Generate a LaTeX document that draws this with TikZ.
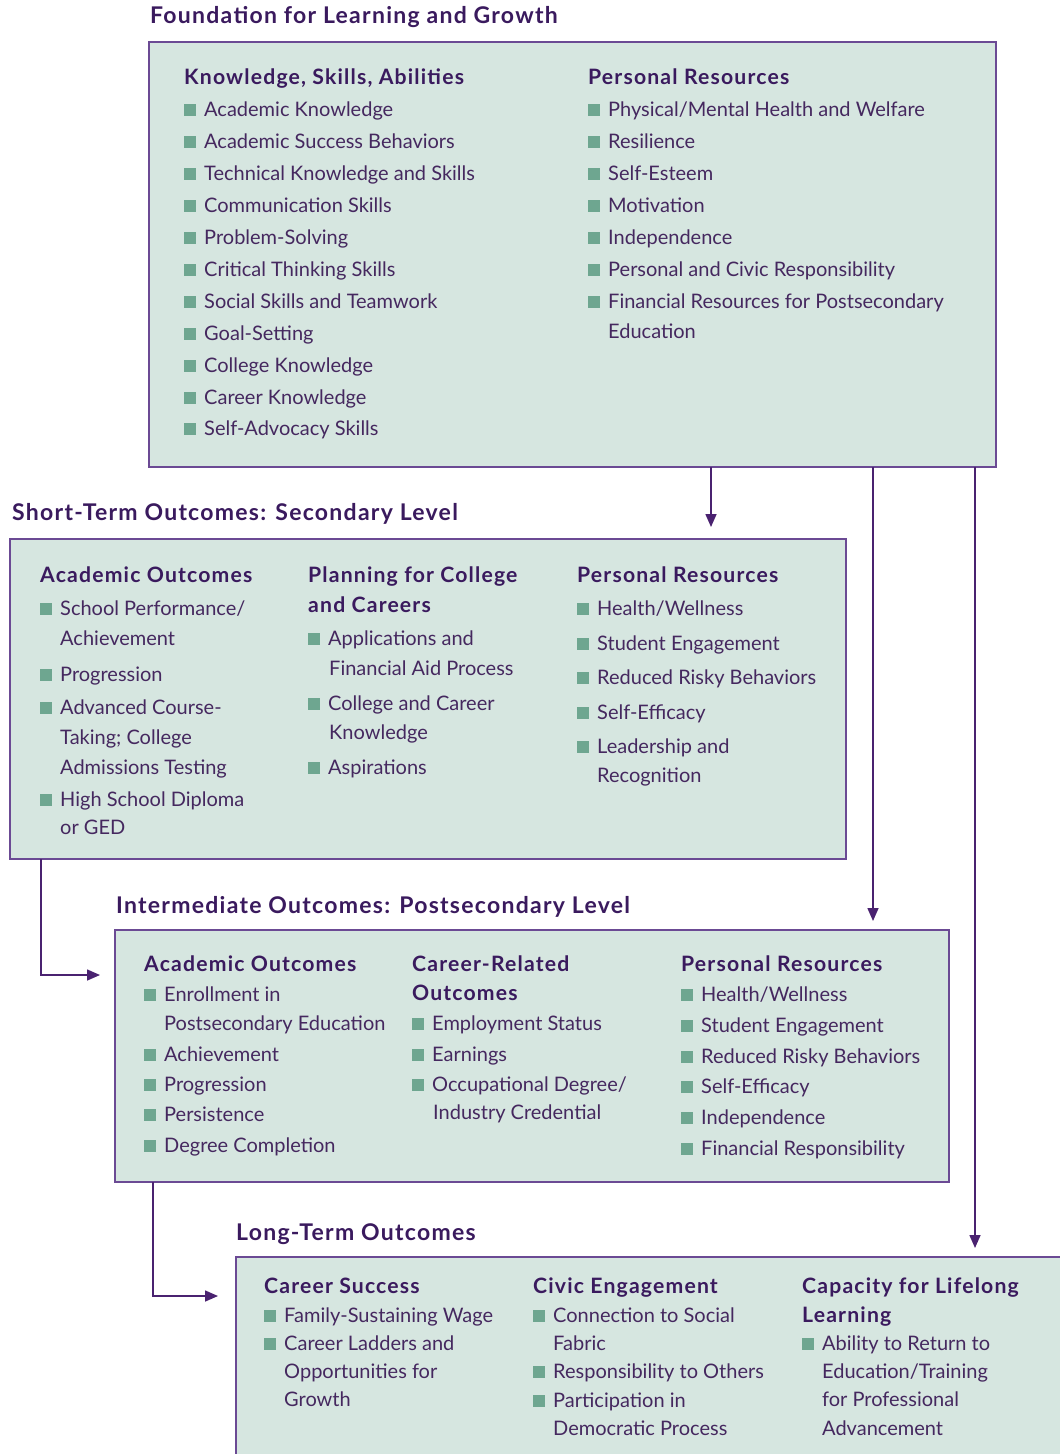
\documentclass[tikz,border=0pt]{standalone}
\usepackage{fontspec}
\setmainfont{Lato}
\newfontfamily\hdfont[LetterSpace=5.5]{Lato}
\usetikzlibrary{arrows.meta}
\definecolor{boxfill}{HTML}{D6E6E0}
\definecolor{boxline}{HTML}{6B4A94}
\definecolor{txtc}{HTML}{45285F}
\definecolor{hdc}{HTML}{3A1A5E}
\definecolor{bulc}{HTML}{6EA690}
\definecolor{arrc}{HTML}{4A2270}
\tikzset{
  boxnode/.style={draw=boxline, line width=2pt, fill=boxfill, anchor=north west, inner sep=0pt, outer sep=0pt},
  titletxt/.style={anchor=base west, inner sep=0pt, text=hdc, font=\hdfont\fontsize{23}{26}\selectfont\bfseries},
  hdtxt/.style={anchor=base west, inner sep=0pt, text=hdc, font=\hdfont\fontsize{21.2}{24}\selectfont\bfseries},
  itmtxt/.style={anchor=base west, inner sep=0pt, text=txtc, font=\fontsize{20}{24}\selectfont},
  arr/.style={draw=arrc, line width=1.6pt, -{Triangle[length=13pt,width=11pt]}},
}
\newcommand\bsq{{\color{bulc}\rule{12pt}{12pt}}\hspace{8pt}}
\newcommand\hd[4]{\node[hdtxt] (#1) at (#2,#3) {#4};}
\newcommand\bi[4]{\node[itmtxt] (#1) at (#2,#3) {\bsq#4};}
\newcommand\ci[4]{\node[itmtxt] (#1) at (#2,#3) {#4};}
\begin{document}
\begin{tikzpicture}[x=1pt,y=-1pt]
\clip (0,0) rectangle (1060,1454);
\fill[white] (0,0) rectangle (1060,1454);
% boxes
\node[boxnode, minimum width=847pt, minimum height=425pt] (b1) at (149,42) {};
\node[boxnode, minimum width=836pt, minimum height=320pt] (b2) at (10,539) {};
\node[boxnode, minimum width=834pt, minimum height=252pt] (b3) at (115,930) {};
\node[boxnode, minimum width=850pt, minimum height=230pt] (b4) at (236,1257) {};
% titles
\node[titletxt] (t1) at (150,23) {Foundation for Learning and Growth};
\node[titletxt] (t2) at (12,520) {Short-Term Outcomes: Secondary Level};
\node[titletxt] (t3) at (116,913) {Intermediate Outcomes: Postsecondary Level};
\node[titletxt] (t4) at (236,1240) {Long-Term Outcomes};
% box 1 col 1
\hd{k0}{184}{84}{Knowledge, Skills, Abilities}
\bi{k1}{184}{116}{Academic Knowledge}
\bi{k2}{184}{148}{Academic Success Behaviors}
\bi{k3}{184}{180}{Technical Knowledge and Skills}
\bi{k4}{184}{212}{Communication Skills}
\bi{k5}{184}{244}{Problem-Solving}
\bi{k6}{184}{276}{Critical Thinking Skills}
\bi{k7}{184}{308}{Social Skills and Teamwork}
\bi{k8}{184}{340}{Goal-Setting}
\bi{k9}{184}{372}{College Knowledge}
\bi{k10}{184}{404}{Career Knowledge}
\bi{k11}{184}{435}{Self-Advocacy Skills}
% box 1 col 2
\hd{p0}{588}{84}{Personal Resources}
\bi{p1}{588}{116}{Physical/Mental Health and Welfare}
\bi{p2}{588}{148}{Resilience}
\bi{p3}{588}{180}{Self-Esteem}
\bi{p4}{588}{212}{Motivation}
\bi{p5}{588}{244}{Independence}
\bi{p6}{588}{276}{Personal and Civic Responsibility}
\bi{p7}{588}{308}{Financial Resources for Postsecondary}
\ci{p8}{608}{338}{Education}
% box 2 col 1
\hd{s0}{40}{582}{Academic Outcomes}
\bi{s1}{40}{615}{School Performance/}
\ci{s2}{60}{645}{Achievement}
\bi{s3}{40}{681}{Progression}
\bi{s4}{40}{714}{Advanced Course-}
\ci{s5}{60}{744}{Taking; College}
\ci{s6}{60}{774}{Admissions Testing}
\bi{s7}{40}{806}{High School Diploma}
\ci{s8}{60}{834}{or GED}
% box 2 col 2
\hd{c0}{308}{582}{Planning for College}
\hd{c1}{308}{612}{and Careers}
\bi{c2}{308}{645}{Applications and}
\ci{c3}{329}{675}{Financial Aid Process}
\bi{c4}{308}{710}{College and Career}
\ci{c5}{329}{739}{Knowledge}
\bi{c6}{308}{774}{Aspirations}
% box 2 col 3
\hd{r0}{577}{582}{Personal Resources}
\bi{r1}{577}{615}{Health/Wellness}
\bi{r2}{577}{650}{Student Engagement}
\bi{r3}{577}{684}{Reduced Risky Behaviors}
\bi{r4}{577}{719}{Self-Efficacy}
\bi{r5}{577}{753}{Leadership and}
\ci{r6}{597}{782}{Recognition}
% box 3 col 1
\hd{i0}{144}{971}{Academic Outcomes}
\bi{i1}{144}{1001}{Enrollment in}
\ci{i2}{164}{1030}{Postsecondary Education}
\bi{i3}{144}{1061}{Achievement}
\bi{i4}{144}{1091}{Progression}
\bi{i5}{144}{1121}{Persistence}
\bi{i6}{144}{1152}{Degree Completion}
% box 3 col 2
\hd{j0}{412}{971}{Career-Related}
\hd{j1}{412}{1000}{Outcomes}
\bi{j2}{412}{1030}{Employment Status}
\bi{j3}{412}{1061}{Earnings}
\bi{j4}{412}{1091}{Occupational Degree/}
\ci{j5}{433}{1119}{Industry Credential}
% box 3 col 3
\hd{m0}{681}{971}{Personal Resources}
\bi{m1}{681}{1001}{Health/Wellness}
\bi{m2}{681}{1032}{Student Engagement}
\bi{m3}{681}{1063}{Reduced Risky Behaviors}
\bi{m4}{681}{1093}{Self-Efficacy}
\bi{m5}{681}{1124}{Independence}
\bi{m6}{681}{1155}{Financial Responsibility}
% box 4 col 1
\hd{l0}{264}{1293}{Career Success}
\bi{l1}{264}{1322}{Family-Sustaining Wage}
\bi{l2}{264}{1350}{Career Ladders and}
\ci{l3}{284}{1378}{Opportunities for}
\ci{l4}{284}{1406}{Growth}
% box 4 col 2
\hd{v0}{533}{1293}{Civic Engagement}
\bi{v1}{533}{1322}{Connection to Social}
\ci{v2}{553}{1350}{Fabric}
\bi{v3}{533}{1378}{Responsibility to Others}
\bi{v4}{533}{1407}{Participation in}
\ci{v5}{553}{1435}{Democratic Process}
% box 4 col 3
\hd{w0}{802}{1293}{Capacity for Lifelong}
\hd{w1}{802}{1322}{Learning}
\bi{w2}{802}{1350}{Ability to Return to}
\ci{w3}{822}{1378}{Education/Training}
\ci{w4}{822}{1406}{for Professional}
\ci{w5}{822}{1435}{Advancement}
% connectors
\coordinate (e1) at (711,527);
\coordinate (e2) at (873,921);
\coordinate (e3) at (975,1248);
\coordinate (e4) at (100,975);
\coordinate (e5) at (218,1296);
\coordinate (x4) at (41,0);
\coordinate (x5) at (153,0);
\draw[arr] (e1 |- b1.south) -- (e1);
\draw[arr] (e2 |- b1.south) -- (e2);
\draw[arr] (e3 |- b1.south) -- (e3);
\draw[arr] (x4 |- b2.south) -- (x4 |- e4) -- (e4);
\draw[arr] (x5 |- b3.south) -- (x5 |- e5) -- (e5);
\end{tikzpicture}
\end{document}
